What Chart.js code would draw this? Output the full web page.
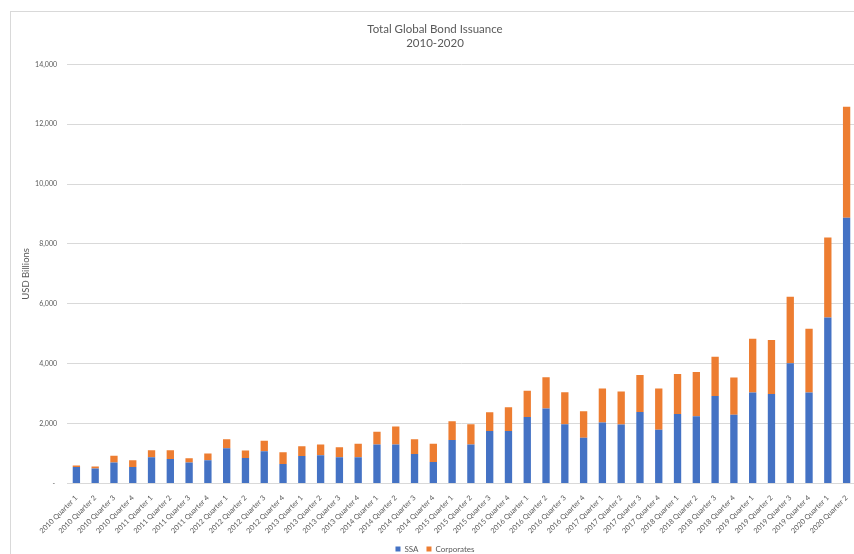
<!DOCTYPE html>
<html>
<head>
<meta charset="utf-8">
<script src="https://cdn.jsdelivr.net/npm/chart.js@4/dist/chart.umd.min.js"></script>
<style>
  html, body { margin: 0; padding: 0; background: #ffffff; overflow: hidden; }
  #wrap { width: 854px; height: 554px; overflow: hidden; position: relative; }
  canvas { display: block; }
</style>
</head>
<body>
<div id="wrap"><canvas id="chart" width="862" height="554"></canvas></div>
<script>
// Quarterly issuance, USD billions
const years = [2010, 2011, 2012, 2013, 2014, 2015, 2016, 2017, 2018, 2019, 2020];
const quarters = ['Quarter 1', 'Quarter 2', 'Quarter 3', 'Quarter 4'];

const ssa = [
  550, 500, 700, 550,
  875, 820, 700, 775,
  1180, 855, 1080, 655,
  920, 945, 880, 880,
  1305, 1305, 985, 720,
  1450, 1305, 1755, 1755,
  2225, 2505, 1975, 1530,
  2040, 1970, 2385, 1795,
  2320, 2250, 2925, 2295,
  3035, 2990, 4020, 3035,
  5545, 8875
];

const corporates = [
  50, 70, 230, 225,
  235, 290, 145, 225,
  300, 245, 345, 390,
  325, 360, 330, 450,
  420, 595, 490, 605,
  630, 675, 625, 795,
  875, 1045, 1070, 885,
  1130, 1100, 1235, 1375,
  1340, 1470, 1310, 1245,
  1800, 1805, 2220, 2130,
  2670, 3705
];

const yTicks = [0, 2000, 4000, 6000, 8000, 10000, 12000, 14000];

// Category labels: "2010 Quarter 1" ... "2020 Quarter 2"
const categories = [];
years.forEach(y => quarters.forEach(q => categories.push(y + ' ' + q)));
categories.length = ssa.length;

const FONT = "Lato, 'Liberation Sans', Arial, sans-serif";
const TEXT = '#595959';
const GRID = '#d9d9d9';

// White background and the light frame around the chart object
const framePlugin = {
  id: 'frame',
  beforeDraw(chart) {
    const ctx = chart.ctx;
    ctx.save();
    ctx.fillStyle = '#ffffff';
    ctx.fillRect(0, 0, chart.width, chart.height);
    ctx.strokeStyle = GRID;
    ctx.lineWidth = 1;
    ctx.strokeRect(10.5, 11.5, chart.width + 20, chart.height + 20);
    ctx.restore();
  }
};

new Chart(document.getElementById('chart'), {
  type: 'bar',
  data: {
    labels: categories,
    datasets: [
      { label: 'SSA', data: ssa, backgroundColor: '#4472c4', borderWidth: 0 },
      { label: 'Corporates', data: corporates, backgroundColor: '#ed7d31', borderWidth: 0 }
    ]
  },
  options: {
    responsive: false,
    animation: false,
    devicePixelRatio: 1,
    layout: { padding: { left: 14, right: 6, top: 0, bottom: -9 } },
    datasets: { bar: { categoryPercentage: 1.0, barPercentage: 0.39 } },
    plugins: {
      title: {
        display: true,
        text: ['Total Global Bond Issuance', '2010-2020'],
        color: TEXT,
        font: { family: FONT, size: 11.5, weight: 'normal', lineHeight: 1.217 },
        padding: { top: 22.2, bottom: 14.1 }
      },
      legend: {
        display: true,
        position: 'bottom',
        labels: {
          color: TEXT,
          font: { family: FONT, size: 8 },
          boxWidth: 5,
          boxHeight: 5,
          padding: 8
        }
      },
      tooltip: { enabled: false }
    },
    scales: {
      x: {
        stacked: true,
        grid: { display: false },
        border: { display: true, color: GRID },
        ticks: {
          color: TEXT,
          font: { family: FONT, size: 7.3 },
          autoSkip: false,
          maxRotation: 45,
          minRotation: 45,
          padding: 2
        },
        afterFit(scale) { scale.height = 53.5; }
      },
      y: {
        stacked: true,
        min: 0,
        max: 14000,
        afterBuildTicks(scale) { scale.ticks = yTicks.map(v => ({ value: v })); },
        grid: { color: GRID, drawTicks: false },
        border: { display: false },
        ticks: {
          color: TEXT,
          font: { family: FONT, size: 7 },
          padding: 10,
          callback: v => v === 0 ? '- ' : v.toLocaleString('en-US')
        },
        title: {
          display: true,
          text: 'USD Billions',
          color: TEXT,
          font: { family: FONT, size: 9.5 },
          padding: { top: 6, bottom: 0 }
        },
        afterFit(scale) { scale.width = 53; }
      }
    }
  },
  plugins: [framePlugin]
});
</script>
</body>
</html>
